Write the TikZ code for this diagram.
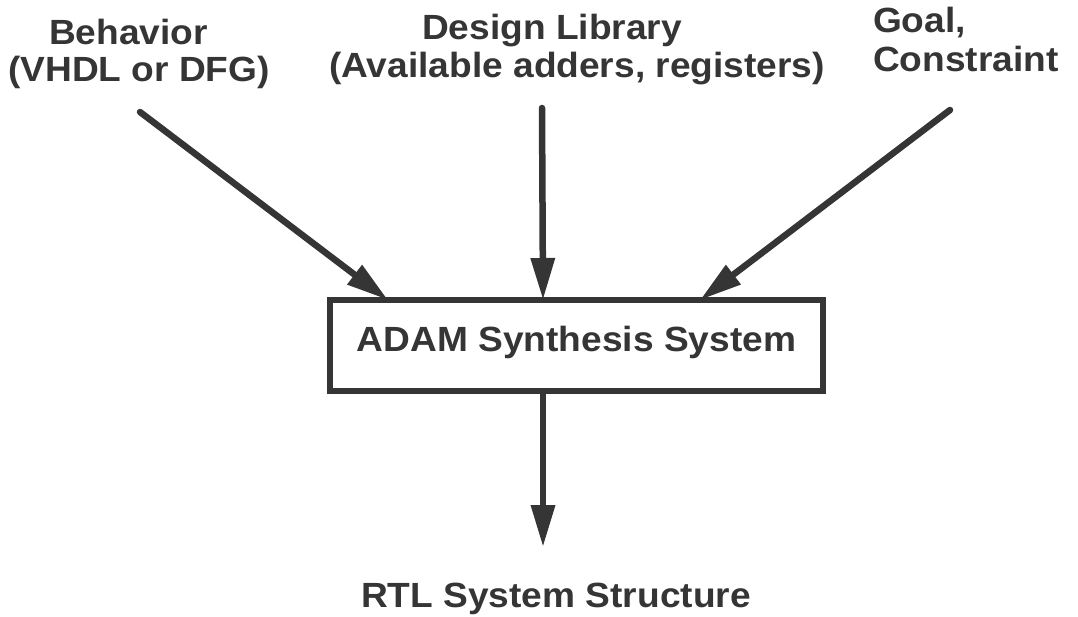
\documentclass[tikz,border=0pt]{standalone}
\usepackage{fontspec}
\setmainfont{Liberation Sans}[FakeStretch=1.06]
\usetikzlibrary{arrows.meta}
\definecolor{ink}{HTML}{353535}
\tikzset{
  label/.style={font=\fontsize{35}{41}\selectfont\bfseries, text=ink, inner sep=0pt, outer sep=0pt},
  sysbox/.style={draw=ink, line width=6.5pt, fill=white, minimum width=493pt, minimum height=91pt, inner sep=0pt, outer sep=0pt},
  flow/.style={draw=ink, line width=6.5pt, line cap=round,
    -{Triangle[length=42pt,width=23pt]}}
}
\begin{document}
\begin{tikzpicture}[x=1pt,y=-1pt]
  \useasboundingbox (0,0) rectangle (1078,617);

  % inputs
  \node[label, anchor=base] (beh1) at (128.5,45) {Behavior};
  \node[label, anchor=base] (beh2) at (139,82) {(VHDL or DFG)};
  \node[label, anchor=base] (lib1) at (552,40) {Design Library};
  \node[label, anchor=base] (lib2) at (577,78) {(Available adders, registers)};
  \node[label, anchor=base west] (goal1) at (873,33) {Goal,};
  \node[label, anchor=base west] (goal2) at (873,72) {Constraint};

  % synthesis system
  \node[sysbox] (adam) at (576.5,345.5) {};
  \node[label, anchor=base] (adamtxt) at (576.5,352) {ADAM Synthesis System};

  % output
  \node[label, anchor=base] (rtl) at (556,607) {RTL System Structure};

  % connector ends
  \coordinate (s1) at (140,112);
  \coordinate (s2) at (542,108);
  \coordinate (s3) at (950,110);
  \coordinate (e4) at (543,547);

  \draw[flow] (s1) -- ([xshift=58pt]adam.north west);
  \draw[flow] (s2) -- ([xshift=213pt]adam.north west);
  \draw[flow] (s3) -- ([xshift=370pt]adam.north west);
  \draw[flow, line cap=butt] ([xshift=213pt]adam.south west) -- (e4);
\end{tikzpicture}
\end{document}
